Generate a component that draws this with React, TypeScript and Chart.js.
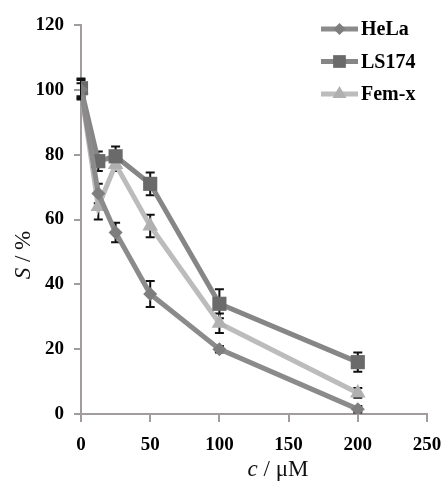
import React, { useEffect, useRef } from 'react';
import { Chart, registerables } from 'chart.js';

Chart.register(...registerables);

// ---- data ----
const concentrations = [0, 12.5, 25, 50, 100, 200];
const seriesNames = ['HeLa', 'LS174', 'Fem-x'];
const helaValues = [100, 68, 56, 37, 20, 1.5];
const helaErrors = [2, 3, 3, 4, 1, 1];
const ls174Values = [100.5, 78, 79.5, 71, 34, 16];
const ls174Errors = [3, 3, 3, 3.5, 4.5, 3];
const femxValues = [100, 64, 77, 58, 28, 6.5];
const femxErrors = [3, 4, 2, 3.5, 3, 1.5];
const xTickValues = [0, 50, 100, 150, 200, 250];
const yTickValues = [0, 20, 40, 60, 80, 100, 120];

const AXIS_COLOR = '#a39c9c';
const SERIF = '"Liberation Serif", "Times New Roman", serif';

const lineColors = ['#8b8b8b', '#868686', '#bcbcbc'];
const markerColors = ['#7e7e7e', '#6a6a6a', '#b0b0b0'];
const markerStyles = ['rectRot', 'rect', 'triangle'];
const markerRadii = [7, 10, 9];

function drawMarker(ctx: CanvasRenderingContext2D, style: string, x: number, y: number, r: number) {
  ctx.beginPath();
  if (style === 'rect') {
    const s = Math.SQRT1_2 * r;
    ctx.rect(x - s, y - s, 2 * s, 2 * s);
  } else if (style === 'rectRot') {
    ctx.moveTo(x, y - r);
    ctx.lineTo(x + r, y);
    ctx.lineTo(x, y + r);
    ctx.lineTo(x - r, y);
    ctx.closePath();
  } else {
    ctx.moveTo(x, y - r);
    ctx.lineTo(x + r * 0.866, y + r * 0.5);
    ctx.lineTo(x - r * 0.866, y + r * 0.5);
    ctx.closePath();
  }
  ctx.fill();
}

export default function App() {
  const ref = useRef<HTMLCanvasElement>(null);

  useEffect(() => {
    if (!ref.current) return;
    const valueSets = [helaValues, ls174Values, femxValues];
    const errorSets = [helaErrors, ls174Errors, femxErrors];

    const errorBarsPlugin = {
      id: 'errorBars',
      beforeDatasetsDraw(chart: any) {
        const { ctx } = chart;
        const xs = chart.scales.x;
        const ys = chart.scales.y;
        ctx.save();
        ctx.strokeStyle = '#111';
        ctx.lineWidth = 2;
        valueSets.forEach((vals, si) => {
          vals.forEach((v, i) => {
            const e = errorSets[si][i];
            const px = xs.getPixelForValue(concentrations[i]);
            const top = ys.getPixelForValue(v + e);
            const bot = ys.getPixelForValue(v - e);
            ctx.beginPath();
            ctx.moveTo(px, top);
            ctx.lineTo(px, bot);
            ctx.moveTo(px - 4.5, top);
            ctx.lineTo(px + 4.5, top);
            ctx.moveTo(px - 4.5, bot);
            ctx.lineTo(px + 4.5, bot);
            ctx.stroke();
          });
        });
        ctx.restore();
      },
    };

    const insideLegendPlugin = {
      id: 'insideLegend',
      afterDraw(chart: any) {
        const { ctx } = chart;
        ctx.save();
        chart.data.datasets.forEach((ds: any, i: number) => {
          const y = 29 + i * 32.5;
          ctx.strokeStyle = lineColors[i];
          ctx.lineWidth = 5;
          ctx.beginPath();
          ctx.moveTo(321, y);
          ctx.lineTo(358, y);
          ctx.stroke();
          ctx.fillStyle = markerColors[i];
          drawMarker(ctx, markerStyles[i], 339.5, y, markerRadii[i] - 1);
          ctx.fillStyle = '#000';
          ctx.font = `bold 20px ${SERIF}`;
          ctx.textBaseline = 'middle';
          ctx.textAlign = 'left';
          ctx.fillText(ds.label, 361, y + 1);
        });
        ctx.restore();
      },
    };

    const tickFont = { family: SERIF, size: 19, weight: 'bold' as const };

    const chart = new Chart(ref.current, {
      type: 'line',
      data: {
        datasets: valueSets.map((vals, si) => ({
          label: seriesNames[si],
          data: vals.map((v, i) => ({ x: concentrations[i], y: v })),
          borderColor: lineColors[si],
          backgroundColor: markerColors[si],
          borderWidth: 5,
          pointStyle: markerStyles[si] as any,
          pointRadius: markerRadii[si],
          pointBackgroundColor: markerColors[si],
          pointBorderWidth: 0,
          pointHoverRadius: markerRadii[si],
          tension: 0,
          fill: false,
        })),
      },
      options: {
        responsive: false,
        animation: false,
        events: [],
        layout: { padding: { top: 25, right: 20, left: 0, bottom: 0 } },
        plugins: {
          legend: { display: false },
          title: { display: false },
          tooltip: { enabled: false },
        },
        scales: {
          x: {
            type: 'linear',
            min: 0,
            max: 250,
            afterBuildTicks: (scale: any) => {
              scale.ticks = xTickValues.map((v) => ({ value: v }));
            },
            afterFit: (scale: any) => {
              scale.height = 68;
              scale.paddingLeft = 0;
              scale.paddingRight = 0;
            },
            border: { color: AXIS_COLOR, width: 2 },
            grid: { drawOnChartArea: false, drawTicks: true, tickLength: 8, color: AXIS_COLOR, lineWidth: 2 },
            ticks: { font: tickFont, color: '#000', padding: 12, maxRotation: 0, autoSkip: false },
          },
          y: {
            type: 'linear',
            min: 0,
            max: 120,
            afterBuildTicks: (scale: any) => {
              scale.ticks = yTickValues.map((v) => ({ value: v }));
            },
            afterFit: (scale: any) => {
              scale.width = 81;
              scale.paddingTop = 0;
              scale.paddingBottom = 0;
            },
            border: { color: AXIS_COLOR, width: 2 },
            grid: { drawOnChartArea: false, drawTicks: true, tickLength: 7, color: AXIS_COLOR, lineWidth: 2 },
            ticks: { font: tickFont, color: '#000', padding: 10, autoSkip: false },
          },
        },
      },
      plugins: [errorBarsPlugin, insideLegendPlugin],
    });
    return () => chart.destroy();
  }, []);

  return (
    <div
      style={{
        position: 'absolute',
        left: 0,
        top: 0,
        width: 447,
        height: 482,
        background: '#fff',
        overflow: 'hidden',
      }}
    >
      <canvas ref={ref} width={447} height={482} style={{ display: 'block' }} />
      <div
        style={{
          position: 'absolute',
          left: 228,
          top: 456,
          width: 100,
          textAlign: 'center',
          fontFamily: SERIF,
          fontSize: 23,
          lineHeight: '26px',
          color: '#111',
          whiteSpace: 'nowrap',
        }}
      >
        <i>c</i> / μM
      </div>
      <div
        style={{
          position: 'absolute',
          left: 23,
          top: 255,
          width: 100,
          marginLeft: -50,
          marginTop: -13,
          textAlign: 'center',
          fontFamily: SERIF,
          fontSize: 23,
          lineHeight: '26px',
          color: '#111',
          whiteSpace: 'nowrap',
          transform: 'rotate(-90deg)',
        }}
      >
        <i>S</i> / %
      </div>
    </div>
  );
}
